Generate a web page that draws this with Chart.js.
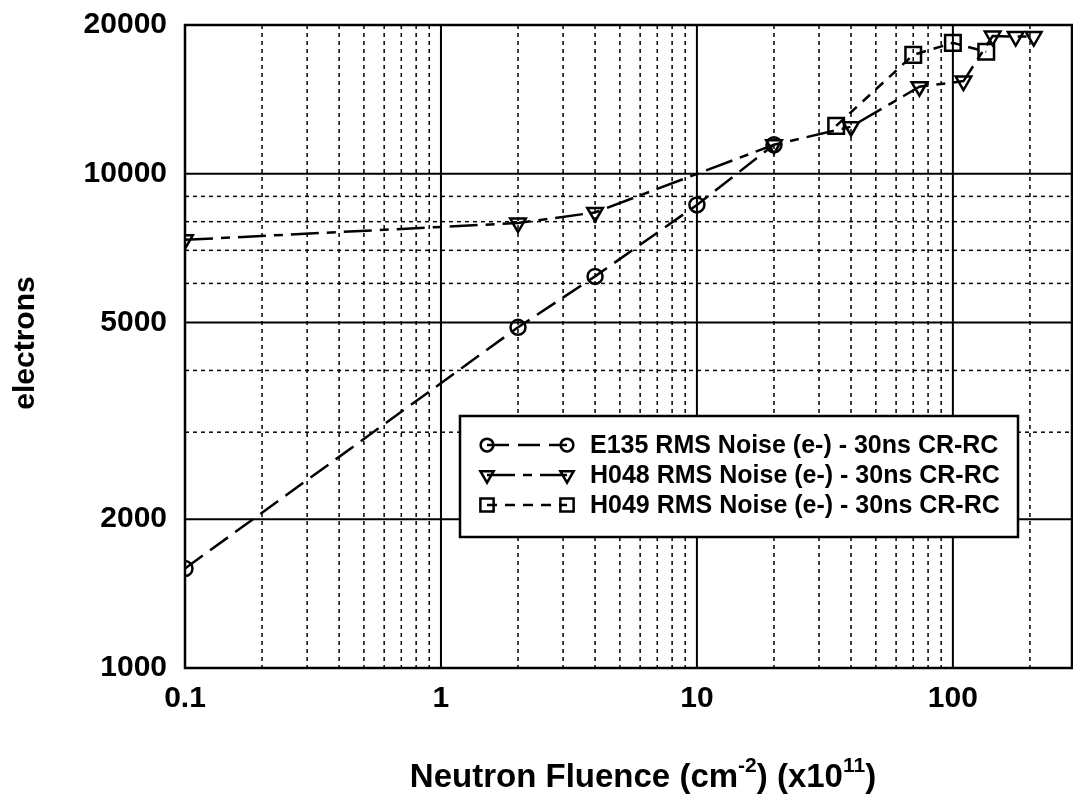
<!DOCTYPE html>
<html>
<head>
<meta charset="utf-8">
<script src="https://cdn.jsdelivr.net/npm/chart.js@4.4.1/dist/chart.umd.min.js"></script>
<style>
html,body{margin:0;padding:0;background:#fff;}
#wrap{width:1073px;height:796px;position:relative;}
canvas{display:block;}
</style>
</head>
<body>
<div id="wrap"><canvas id="c" width="1073" height="796"></canvas></div>
<script>
// ---- data ----
const e135X = [0.1, 2, 4, 10, 20];
const e135Y = [1590, 4890, 6200, 8650, 11450];
const h048X = [0.1, 2, 4, 20, 40, 74, 110, 143, 176, 207];
const h048Y = [7350, 7950, 8350, 11450, 12450, 15000, 15400, 19000, 18950, 18950];
const h049X = [35, 70, 100, 135];
const h049Y = [12500, 17400, 18400, 17650];
const seriesLabels = [
  'E135 RMS Noise (e-) - 30ns CR-RC',
  'H048 RMS Noise (e-) - 30ns CR-RC',
  'H049 RMS Noise (e-) - 30ns CR-RC'
];
const xTickLabels = [0.1, 1, 10, 100];
const yTickLabels = [1000, 2000, 5000, 10000, 20000];
const xMajorGrid = [1, 10, 100];
const xMinorGrid = [0.2,0.3,0.4,0.5,0.6,0.7,0.8,0.9,2,3,4,5,6,7,8,9,20,30,40,50,60,70,80,90,200];
const yMajorGrid = [2000, 5000, 10000];
const yMinorGrid = [3000, 4000, 6000, 7000, 8000, 9000];
const xTitle = ['Neutron Fluence (cm', '-2', ') (x10', '11', ')'];
const yTitle = 'electrons';

const FONT = '"Liberation Sans", Arial, Helvetica, sans-serif';
const toPts = (xs, ys) => xs.map((v, i) => ({x: v, y: ys[i]}));

const gridPlugin = {
  id: 'gridPlugin',
  beforeDatasetsDraw(chart) {
    const {ctx, chartArea: a, scales: {x, y}} = chart;
    ctx.save();
    ctx.strokeStyle = '#000';
    ctx.lineWidth = 1.5;
    ctx.setLineDash([4, 4]);
    xMinorGrid.forEach(v => {
      const p = x.getPixelForValue(v);
      ctx.beginPath(); ctx.moveTo(p, a.top); ctx.lineTo(p, a.bottom); ctx.stroke();
    });
    yMinorGrid.forEach(v => {
      const p = y.getPixelForValue(v);
      ctx.beginPath(); ctx.moveTo(a.left, p); ctx.lineTo(a.right, p); ctx.stroke();
    });
    ctx.setLineDash([]);
    ctx.lineWidth = 2;
    xMajorGrid.forEach(v => {
      const p = x.getPixelForValue(v);
      ctx.beginPath(); ctx.moveTo(p, a.top); ctx.lineTo(p, a.bottom); ctx.stroke();
    });
    yMajorGrid.forEach(v => {
      const p = y.getPixelForValue(v);
      ctx.beginPath(); ctx.moveTo(a.left, p); ctx.lineTo(a.right, p); ctx.stroke();
    });
    ctx.lineWidth = 2.5;
    ctx.strokeRect(a.left, a.top, a.right - a.left, a.bottom - a.top);
    ctx.restore();
  }
};

function drawMarker(ctx, style, x, y, r) {
  Chart.helpers.drawPoint(ctx, {pointStyle: style.pointStyle, rotation: style.rotation || 0, radius: r, borderWidth: 2.5}, x, y);
}

const legendPlugin = {
  id: 'boxLegend',
  afterDatasetsDraw(chart) {
    const {ctx} = chart;
    const box = {l: 460, t: 416, r: 1018, b: 537};
    ctx.save();
    ctx.fillStyle = '#fff';
    ctx.fillRect(box.l, box.t, box.r - box.l, box.b - box.t);
    ctx.strokeStyle = '#000';
    ctx.lineWidth = 2.5;
    ctx.strokeRect(box.l, box.t, box.r - box.l, box.b - box.t);
    const rows = [445, 475, 505];
    chart.data.datasets.forEach((ds, i) => {
      const yy = rows[i];
      ctx.strokeStyle = '#000';
      ctx.lineWidth = 2.5;
      ctx.setLineDash(ds.borderDash || []);
      ctx.beginPath(); ctx.moveTo(487, yy); ctx.lineTo(567, yy); ctx.stroke();
      ctx.setLineDash([]);
      ctx.fillStyle = 'rgba(0,0,0,0)';
      ctx.strokeStyle = '#000';
      ctx.lineWidth = 2.5;
      drawMarker(ctx, {pointStyle: ds.pointStyle, rotation: ds.pointRotation}, 487, yy, ds.pointRadius * 0.85);
      drawMarker(ctx, {pointStyle: ds.pointStyle, rotation: ds.pointRotation}, 567, yy, ds.pointRadius * 0.85);
      ctx.fillStyle = '#000';
      ctx.font = 'bold 25px ' + FONT;
      ctx.textAlign = 'left';
      ctx.textBaseline = 'middle';
      ctx.fillText(ds.label, 590, yy + 1);
    });
    ctx.restore();
  }
};

const titlePlugin = {
  id: 'axisTitles',
  afterDraw(chart) {
    const {ctx} = chart;
    ctx.save();
    ctx.fillStyle = '#000';
    ctx.font = 'bold 30px ' + FONT;
    ctx.translate(26, 343);
    ctx.rotate(-Math.PI / 2);
    ctx.textAlign = 'center';
    ctx.textBaseline = 'middle';
    ctx.fillText(yTitle, 0, 0);
    ctx.restore();
    ctx.save();
    ctx.fillStyle = '#000';
    ctx.textBaseline = 'alphabetic';
    ctx.textAlign = 'left';
    const big = 'bold 33px ' + FONT, small = 'bold 21px ' + FONT;
    const parts = xTitle.map((t, i) => ({t, sup: i % 2 === 1}));
    let total = 0;
    parts.forEach(p => { ctx.font = p.sup ? small : big; p.w = ctx.measureText(p.t).width; total += p.w; });
    let xx = 643 - total / 2;
    const base = 787;
    parts.forEach(p => {
      ctx.font = p.sup ? small : big;
      ctx.fillText(p.t, xx, p.sup ? base - 15 : base);
      xx += p.w;
    });
    ctx.restore();
  }
};

const common = {
  borderColor: '#000', borderWidth: 2.5, fill: false, tension: 0,
  pointBorderColor: '#000', pointBackgroundColor: 'rgba(0,0,0,0)', pointBorderWidth: 2.5,
  clip: {left: 0, top: 6, right: 6, bottom: 0}
};

new Chart(document.getElementById('c'), {
  type: 'line',
  data: {
    datasets: [
      Object.assign({}, common, {label: seriesLabels[0], data: toPts(e135X, e135Y), borderDash: [22, 9], pointStyle: 'circle', pointRadius: 7.5}),
      Object.assign({}, common, {label: seriesLabels[1], data: toPts(h048X, h048Y), borderDash: [28, 8, 9, 8], pointStyle: 'triangle', pointRotation: 180, pointRadius: 9}),
      Object.assign({}, common, {label: seriesLabels[2], data: toPts(h049X, h049Y), borderDash: [10, 8], pointStyle: 'rect', pointRadius: 11})
    ]
  },
  options: {
    responsive: false,
    animation: false,
    devicePixelRatio: 1,
    layout: {autoPadding: false, padding: {left: 0, top: 25, right: 1, bottom: 0}},
    plugins: {legend: {display: false}, tooltip: {enabled: false}, title: {display: false}},
    scales: {
      x: {
        type: 'logarithmic', min: 0.1, max: 292,
        grid: {display: false, drawTicks: false},
        border: {display: false},
        afterBuildTicks: s => { s.ticks = xTickLabels.map(v => ({value: v})); },
        afterFit: s => { s.height = 128; s.paddingLeft = 0; s.paddingRight = 0; },
        ticks: {
          color: '#000', padding: 13, maxRotation: 0, autoSkip: false,
          font: {family: FONT, size: 30, weight: 'bold'},
          callback: v => String(v)
        }
      },
      y: {
        type: 'logarithmic', min: 1000, max: 20000,
        grid: {display: false, drawTicks: false},
        border: {display: false},
        afterBuildTicks: s => { s.ticks = yTickLabels.map(v => ({value: v})); },
        afterFit: s => { s.width = 185; s.paddingTop = 0; s.paddingBottom = 0; },
        ticks: {
          color: '#000', padding: 18, autoSkip: false,
          font: {family: FONT, size: 30, weight: 'bold'},
          callback: v => String(v)
        }
      }
    }
  },
  plugins: [gridPlugin, legendPlugin, titlePlugin]
});
</script>
</body>
</html>
